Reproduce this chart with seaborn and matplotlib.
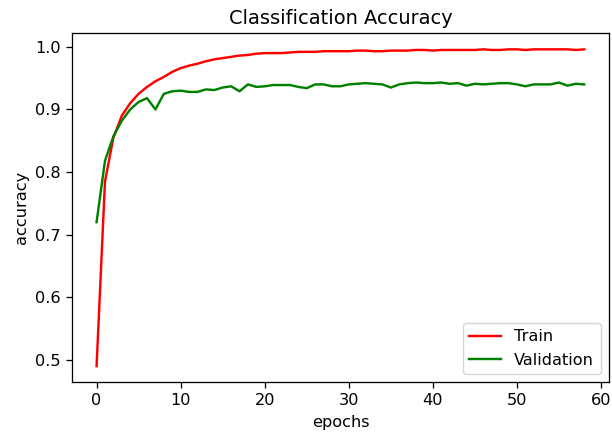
import matplotlib
matplotlib.use("Agg")
import matplotlib.pyplot as plt
import seaborn as sns
import pandas as pd

# Per-epoch accuracy history
train_acc = [
    0.490, 0.785, 0.855, 0.890, 0.910, 0.925, 0.936, 0.945, 0.952, 0.960,
    0.966, 0.970, 0.973, 0.977, 0.980, 0.982, 0.984, 0.986, 0.987, 0.989,
    0.990, 0.990, 0.990, 0.991, 0.992, 0.992, 0.992, 0.993, 0.993, 0.993,
    0.993, 0.994, 0.994, 0.993, 0.993, 0.994, 0.994, 0.994, 0.995, 0.995,
    0.994, 0.995, 0.995, 0.995, 0.995, 0.995, 0.996, 0.995, 0.995, 0.996,
    0.996, 0.995, 0.996, 0.996, 0.996, 0.996, 0.996, 0.995, 0.996,
]
val_acc = [
    0.720, 0.818, 0.857, 0.882, 0.900, 0.912, 0.918, 0.900, 0.925, 0.929,
    0.930, 0.928, 0.928, 0.932, 0.931, 0.935, 0.937, 0.929, 0.940, 0.936,
    0.937, 0.939, 0.939, 0.939, 0.936, 0.934, 0.940, 0.940, 0.937, 0.937,
    0.940, 0.941, 0.942, 0.941, 0.940, 0.935, 0.940, 0.942, 0.943, 0.942,
    0.942, 0.943, 0.941, 0.942, 0.938, 0.941, 0.940, 0.941, 0.942, 0.942,
    0.940, 0.937, 0.940, 0.940, 0.940, 0.943, 0.938, 0.941, 0.940,
]
epochs = list(range(len(train_acc)))
series_names = ["Train", "Validation"]
series_colors = ["red", "green"]

df = pd.DataFrame({
    "epochs": epochs * 2,
    "accuracy": train_acc + val_acc,
    "series": [series_names[0]] * len(epochs) + [series_names[1]] * len(epochs),
})

s = 1.16  # overall scale of text, ticks and lines
plt.rcParams.update({
    "xtick.major.size": 3.5 * s, "ytick.major.size": 3.5 * s,
    "xtick.major.width": 0.8 * s, "ytick.major.width": 0.8 * s,
    "axes.linewidth": 0.8 * s,
    "xtick.major.pad": 3.5 * s, "ytick.major.pad": 3.5 * s,
})

W, H = 612, 436
fig = plt.figure(figsize=(W / 100, H / 100), dpi=100)
ax = fig.add_axes([72.2 / W, 1 - 382 / H, (608.6 - 72.2) / W, (382 - 33.5) / H])

sns.lineplot(
    data=df, x="epochs", y="accuracy", hue="series",
    palette=dict(zip(series_names, series_colors)),
    linewidth=1.5 * s, ax=ax,
)

ax.set_title("Classification Accuracy", fontsize=12 * s, pad=6 * s)
ax.set_xlabel("epochs", fontsize=10 * s, labelpad=4 * s)
ax.set_ylabel("accuracy", fontsize=10 * s, labelpad=4 * s)
ax.tick_params(labelsize=10 * s)
ax.set_xticks([0, 10, 20, 30, 40, 50, 60])
ax.set_yticks([0.5, 0.6, 0.7, 0.8, 0.9, 1.0])
ax.legend(loc="lower right", fontsize=10 * s, title=None)

fig.savefig("out.png", dpi=100)
